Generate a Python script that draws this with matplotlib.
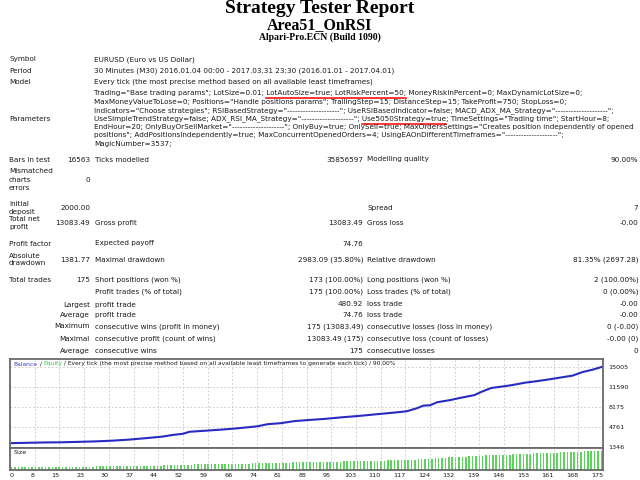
import matplotlib
matplotlib.use("Agg")
import matplotlib.pyplot as plt

W, H = 640, 480

# balance curve (trade number, balance)
trade_no = [0, 5, 10, 15, 20, 25, 30, 35, 40, 45, 48, 51, 53, 57, 62, 66, 70, 73,
            76, 80, 84, 88, 93, 98, 103, 108, 113, 117, 120, 122, 124, 126, 130,
            133, 137, 139, 142, 145, 148, 152, 155, 158, 161, 164, 166, 169, 172, 175]
balance = [2000, 2060, 2120, 2150, 2220, 2300, 2420, 2600, 2850, 3120, 3400, 3600,
           3950, 4100, 4300, 4480, 4700, 4880, 5240, 5420, 5770, 5950, 6150, 6420,
           6650, 6930, 7200, 7440, 7950, 8410, 8470, 8980, 9370, 9750, 10200, 10730,
           11420, 11650, 11900, 12330, 12550, 12800, 13070, 13350, 13530, 14150,
           14560, 15083]

# lot size of every trade (lower panel)
lots = ([0.10] * 12 + [0.11] * 13 +
        [0.12] * 7 + [0.13] * 5 + [0.14] * 4 + [0.15] * 4 + [0.16] * 3 + [0.17] * 2 +
        [0.18] * 2 + [0.19] * 2 + [0.20] * 5 + [0.21] * 4 + [0.22] * 4 + [0.23] * 4 +
        [0.24] * 3 + [0.25] * 1 +
        [0.25] * 1 + [0.26] * 4 + [0.27] * 3 + [0.29] * 5 + [0.30] * 5 + [0.31] * 5 +
        [0.32] * 2 +
        [0.33] * 3 + [0.34] * 4 + [0.35] * 4 + [0.36] * 4 + [0.37] * 4 + [0.39] * 1 +
        [0.40] * 1 + [0.41] * 1 + [0.42] * 3 +
        [0.44] * 1 + [0.45] * 3 + [0.47] * 3 + [0.49] * 3 + [0.51] * 3 + [0.53] * 1 +
        [0.54] * 1 + [0.55] * 1 + [0.56] * 1 + [0.57] * 3 + [0.58] * 3 + [0.59] * 2 +
        [0.61] * 4 + [0.63] * 4 + [0.65] * 4 + [0.67] * 3 + [0.68] * 2 + [0.69] * 1 +
        [0.70] * 1 + [0.71] * 2 + [0.73] * 2 + [0.74] * 2)

y_ticks = [1346, 4761, 8175, 11590, 15005]
x_labels = ["0", "8", "15", "23", "30", "37", "44", "52", "59", "66", "74", "81", "88",
            "95", "103", "110", "117", "124", "132", "139", "146", "153", "161", "168", "175"]

param_lines = [
    'Trading="Base trading params"; LotSize=0.01; LotAutoSize=true; LotRiskPercent=50; MoneyRiskInPercent=0; MaxDynamicLotSize=0;',
    'MaxMoneyValueToLose=0; Positions="Handle positions params"; TrailingStep=15; DistanceStep=15; TakeProfit=750; StopLoss=0;',
    'Indicators="Choose strategies"; RSIBasedStrategy="--------------------"; UseRSIBasedIndicator=false; MACD_ADX_MA_Strategy="--------------------";',
    'UseSimpleTrendStrategy=false; ADX_RSI_MA_Strategy="--------------------"; Use5050Strategy=true; TimeSettings="Trading time"; StartHour=8;',
    'EndHour=20; OnlyBuyOrSellMarket="--------------------"; OnlyBuy=true; OnlySell=true; MaxOrdersSettings="Creates position independently of opened',
    'positions"; AddPositionsIndependently=true; MaxConcurrentOpenedOrders=4; UsingEAOnDifferentTimeframes="--------------------";',
    'MagicNumber=3537;',
]

# rows: y, first label, first value, 2nd label, 2nd value, 3rd label, 3rd value
rows = [
    (159.5, "Bars in test", "16563", "Ticks modelled", "35856597", "Modelling quality", "90.00%"),
    (207.5, "", "2000.00", "", "", "Spread", "7"),
    (223.0, "", "13083.49", "Gross profit", "13083.49", "Gross loss", "-0.00"),
    (243.5, "Profit factor", "", "Expected payoff", "74.76", "", ""),
    (259.5, "", "1381.77", "Maximal drawdown", "2983.09 (35.80%)", "Relative drawdown", "81.35% (2697.28)"),
    (280.0, "Total trades", "175", "Short positions (won %)", "173 (100.00%)", "Long positions (won %)", "2 (100.00%)"),
    (291.7, "", "", "Profit trades (% of total)", "175 (100.00%)", "Loss trades (% of total)", "0 (0.00%)"),
]
sub_rows = [
    (304.5, "Largest", "profit trade", "480.92", "loss trade", "-0.00"),
    (315.3, "Average", "profit trade", "74.76", "loss trade", "-0.00"),
    (326.5, "Maximum", "consecutive wins (profit in money)", "175 (13083.49)", "consecutive losses (loss in money)", "0 (-0.00)"),
    (338.7, "Maximal", "consecutive profit (count of wins)", "13083.49 (175)", "consecutive loss (count of losses)", "-0.00 (0)"),
    (350.7, "Average", "consecutive wins", "175", "consecutive losses", "0"),
]

fig = plt.figure(figsize=(6.4, 4.8), dpi=100)
fig.patch.set_facecolor("white")
FS = 5.2
TXT = "#1a1a1a"


def put(x, y, s, ha="left", size=FS, **kw):
    kw.setdefault("color", TXT)
    return fig.text(x / W, 1 - y / H, s, ha=ha, va="center", fontsize=size, **kw)


# header
put(320, 8.5, "Strategy Tester Report", ha="center", size=14, family="Liberation Serif",
    weight="bold", color="black")
put(320, 25, "Area51_OnRSI", ha="center", size=11.5, family="Liberation Serif",
    weight="bold", color="black")
put(320, 37.5, "Alpari-Pro.ECN (Build 1090)", ha="center", size=7, family="Liberation Serif",
    weight="bold", color="black")

put(9, 59.5, "Symbol")
put(94, 59.5, "EURUSD (Euro vs US Dollar)")
put(9, 70.7, "Period")
put(94, 70.7, "30 Minutes (M30) 2016.01.04 00:00 - 2017.03.31 23:30 (2016.01.01 - 2017.04.01)")
put(9, 81.5, "Model")
put(94, 81.5, "Every tick (the most precise method based on all available least timeframes)")
put(9, 118.7, "Parameters")

renderer = fig.canvas.get_renderer()


def underline(line_idx, y, part):
    s = param_lines[line_idx]
    i = s.index(part)
    t1 = put(94, y, s[:i])
    t2 = put(94, y, s[:i + len(part)])
    x0 = t1.get_window_extent(renderer).x1
    x1 = t2.get_window_extent(renderer).x1
    t1.remove()
    t2.remove()
    fig.add_artist(plt.Line2D([x0 / W, x1 / W], [1 - (y + 4.8) / H] * 2,
                              color="red", lw=1.1, transform=fig.transFigure))


for i, line in enumerate(param_lines):
    y = 93.5 + 8.4 * i
    put(94, y, line)
underline(0, 93.5, "LotAutoSize=true; LotRiskPercent=50;")
underline(3, 93.5 + 8.4 * 3, "Use5050Strategy=true")

for y, l1 in [(170.7, "Mismatched"), (180, "charts"), (188.3, "errors"),
              (204, "Initial"), (211.7, "deposit"), (219, "Total net"), (226.7, "profit"),
              (255.7, "Absolute"), (263.3, "drawdown")]:
    put(9, y, l1)
put(90, 180, "0", ha="right")

for y, a, av, b, bv, c, cv in rows:
    put(9, y, a)
    put(90, y, av, ha="right")
    put(95, y, b)
    put(363, y, bv, ha="right")
    put(367, y, c)
    put(638.5, y, cv, ha="right")

for y, a, b, bv, c, cv in sub_rows:
    put(90, y, a, ha="right")
    put(95, y, b)
    put(363, y, bv, ha="right")
    put(367, y, c)
    put(638.5, y, cv, ha="right")

# chart panels
left, right = 10, 603
top, mid, bot = 358.5, 448, 469.5
ax = fig.add_axes([left / W, 1 - mid / H, (right - left) / W, (mid - top) / H])
axs = fig.add_axes([left / W, 1 - bot / H, (right - left) / W, (bot - mid) / H])

xpos = [k * 175 / 24 for k in range(25)]

ax.plot(trade_no, balance, color="#2a2ac4", lw=1.5, solid_joinstyle="round")
ax.set_xlim(0, 175)
ax.set_ylim(1175, 16456)
ax.set_xticks(xpos)
ax.set_xticklabels([])
ax.yaxis.tick_right()
ax.set_yticks(y_ticks)
ax.set_yticklabels([str(v) for v in y_ticks], fontsize=4.6, color=TXT)
ax.tick_params(axis="both", length=0, pad=4)
ax.grid(True, ls=(0, (2, 2.5)), color="#c4c4c4", lw=0.6)

bar_x = [i + 0.5 for i in range(len(lots))]
axs.bar(bar_x, lots, width=0.45, color="#62cf62", linewidth=0)
axs.set_xlim(0, 175)
axs.set_ylim(0, 0.84)
axs.set_yticks([])
axs.set_xticks(xpos)
axs.set_xticklabels(x_labels, fontsize=4.6, color=TXT)
for k, lab in enumerate(axs.get_xticklabels()):
    lab.set_ha("left" if k == 0 else "right")
axs.tick_params(axis="x", length=0, pad=2.5)
axs.grid(True, axis="x", ls=(0, (2, 2.5)), color="#c4c4c4", lw=0.6)
axs.text(0.006, 0.8, "Size", transform=axs.transAxes, fontsize=4.6, color=TXT, va="center")

for a in (ax, axs):
    for sp in a.spines.values():
        sp.set_color("#6a6a6a")
        sp.set_linewidth(1.3)

# legend line on top of the chart
lx = 13.5
pieces = [("Balance", "#3a3ad0"), (" / ", TXT), ("Equity", "#33cc33"),
          (" / Every tick (the most precise method based on all available least timeframes to generate each tick) / 90.00%", TXT)]
for s, c in pieces:
    t = put(lx, 364, s, size=4.3, color=c)
    lx = t.get_window_extent(renderer).x1

fig.savefig("out.png", dpi=100)
